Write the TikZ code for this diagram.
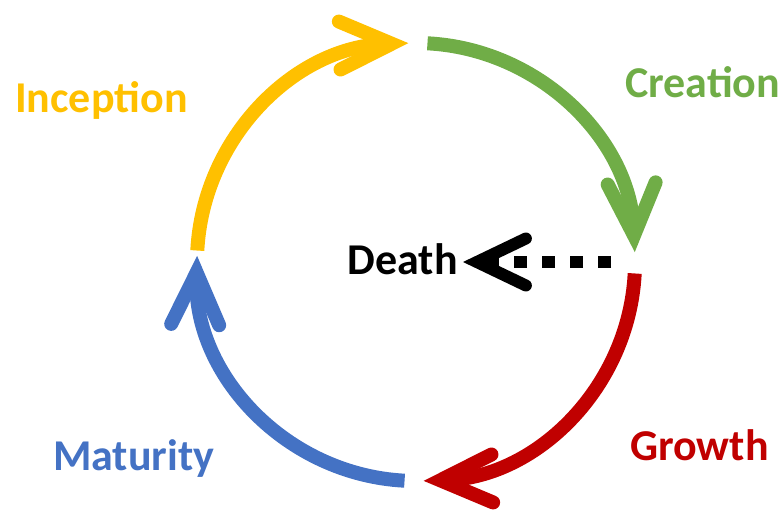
\documentclass[tikz,border=0pt]{standalone}
\usepackage{fontspec}
\setmainfont{Carlito}
\usetikzlibrary{arrows.meta}
\definecolor{cycYellow}{HTML}{FFC000}
\definecolor{cycGreen}{HTML}{70AD47}
\definecolor{cycRed}{HTML}{C00000}
\definecolor{cycBlue}{HTML}{4472C4}
\tikzset{
  phase/.style={line width=14pt, line cap=butt,
    -{Straight Barb[length=52pt, width=48pt, line cap=round, line join=miter]}},
  labelfont/.style={font=\fontsize{44}{50}\selectfont\bfseries},
  phaselabel/.style={labelfont, inner sep=0pt, anchor=base west},
}
\begin{document}
\begin{tikzpicture}[x=1pt,y=1pt]
  \useasboundingbox (0,0) rectangle (784,512);
  \coordinate (hub) at (416,250);
  \def\R{219}
  % four phases of the cycle, drawn clockwise
  \draw[phase, cycYellow] (hub) ++(177:\R) arc[start angle=177, end angle=92, radius=\R];
  \draw[phase, cycGreen]  (hub) ++(87:\R)  arc[start angle=87,  end angle=2.6, radius=\R];
  \draw[phase, cycRed]    (hub) ++(-3:\R)  arc[start angle=-3,  end angle=-88, radius=\R];
  \draw[phase, cycBlue]   (hub) ++(-93:\R) arc[start angle=-93, end angle=-181.6, radius=\R];
  % labels
  \node[phaselabel, text=cycYellow] (inception) at (15,399) {Inception};
  \node[phaselabel, text=cycGreen]  (creation)  at (625,414) {Creation};
  \node[phaselabel, text=cycRed]    (growth)    at (630,52)  {Growth};
  \node[phaselabel, text=cycBlue]   (maturity)  at (53,42)   {Maturity};
  % exit towards death
  \node[labelfont, inner xsep=5pt, inner ysep=0pt,
        anchor=base east] (death) at (463,237) {Death};
  \coordinate (exit) at (611,250);
  \draw[line width=11pt, dash pattern=on 13pt off 15pt,
        -{Straight Barb[length=49pt, width=47pt, line width=12pt, line cap=round, line join=miter]}]
        (exit) -- (exit -| death.east);
\end{tikzpicture}
\end{document}
